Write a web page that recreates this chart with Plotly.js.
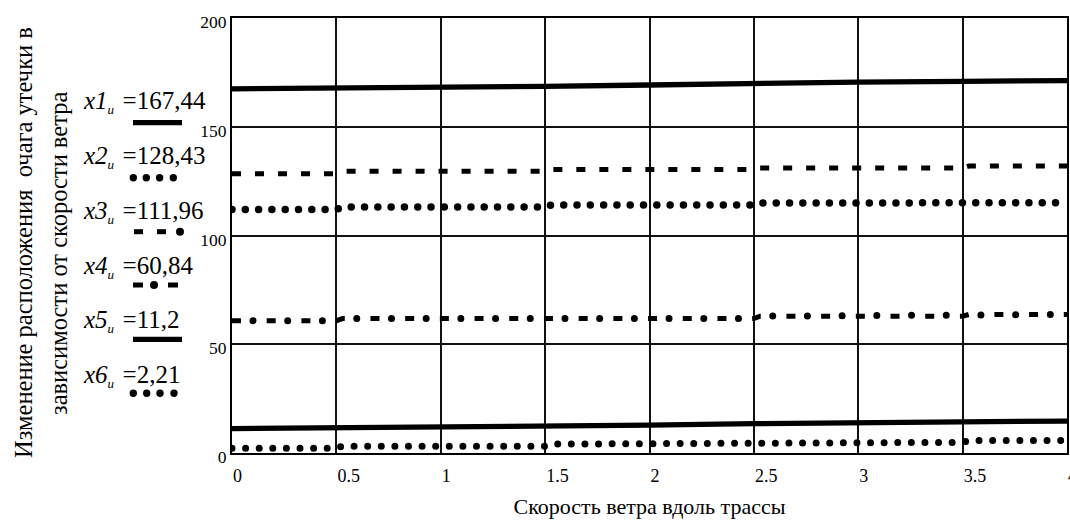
<!DOCTYPE html>
<html><head><meta charset="utf-8">
<script src="https://cdn.plot.ly/plotly-3.0.1.min.js"></script>
<style>
html,body{margin:0;padding:0;background:#fff;}
#chart{width:1070px;height:521px;}
.scatterlayer .trace:nth-child(3) path.js-line,
.scatterlayer .trace:nth-child(5) path.js-line,
.scatterlayer .trace:nth-child(7) path.js-line{stroke-linecap:round !important;}
.scatterlayer .trace:nth-child(5) path.js-line{stroke-dashoffset:13.7px !important;}
</style></head>
<body><div id="chart"></div>
<script>
// ---- data ----
const xStep   = [0, 0.5, 0.53, 1.5, 1.53, 2.5, 2.53, 3.5, 3.53, 4];
const xSmooth = [0, 0.5, 1, 1.5, 2, 2.5, 3, 3.5, 4];
const x1 = [167.44, 167.7, 168.2, 168.6, 169.2, 170.0, 170.5, 170.9, 171.2];
const x2 = [128.43, 128.43, 129.5, 129.5, 130.3, 130.3, 131.0, 131.0, 131.9, 131.9];
const x3 = [111.96, 111.96, 113.1, 113.1, 114.0, 114.0, 114.9, 114.9, 115.1, 115.1];
const x4 = [60.84, 60.84, 61.8, 61.8, 61.8, 61.8, 62.9, 62.9, 63.7, 63.7];
const x5 = [11.2, 11.5, 12.0, 12.4, 12.8, 13.5, 14.0, 14.4, 14.7];
const x6 = [2.21, 2.21, 3.15, 3.15, 4.1, 4.1, 4.9, 4.9, 5.8, 5.8];

const xTickVals = [0, 0.5, 1, 1.5, 2, 2.5, 3, 3.5, 4];
const xTickText = ['0', '0.5', '1', '1.5', '2', '2.5', '3', '3.5', '4'];
const yTickVals = [0, 50, 100, 150, 200];
const yTickText = ['0', '50', '100', '150', '200'];

const legendNames  = ['x1', 'x2', 'x3', 'x4', 'x5', 'x6'];
const legendValues = ['167,44', '128,43', '111,96', '60,84', '11,2', '2,21'];
const xTitle = 'Скорость ветра вдоль трассы';
const yTitleLines = ['Изменение расположения  очага утечки в', 'зависимости от скорости ветра'];

// ---- geometry helpers (pixel -> paper) ----
const L = 232, R = 1067, T = 18, B = 453;
const px = v => (v - L) / (R - L);
const py = v => (B - v) / (B - T);

const serif = 'Liberation Serif, Times New Roman, serif';

const traces = [
  {x: xSmooth, y: x1, mode: 'lines', line: {color: '#000', width: 5.3}},
  {x: xStep, y: x2, mode: 'lines', line: {color: '#000', width: 5, dash: '9px,14px'}},
  {x: xStep, y: x3, mode: 'lines', line: {color: '#000', width: 7.5, dash: '0px,13.3px'}},
  {x: xStep, y: x4, mode: 'lines', line: {color: '#000', width: 5, dash: '9px,25.7px'}},
  {x: xStep, y: x4, mode: 'lines', line: {color: '#000', width: 7, dash: '0px,34.7px'}},
  {x: xSmooth, y: x5, mode: 'lines', line: {color: '#000', width: 5.3}},
  {x: xStep, y: x6, mode: 'lines', line: {color: '#000', width: 7, dash: '0px,13.6px'}}
];

// legend text rows (pixel centres)
const rowY = [102, 157, 212, 267, 321, 376];
const annotations = [];
legendNames.forEach((n, i) => {
  annotations.push({
    xref: 'paper', yref: 'paper', x: px(81), y: py(rowY[i]),
    xanchor: 'left', yanchor: 'middle', showarrow: false,
    text: '<i>' + n + '</i><sub><i><span style="font-size:13px">и</span></i></sub><span style="font-size:17px">&nbsp;&nbsp;</span>=' + legendValues[i],
    font: {family: serif, size: 25, color: '#000'}
  });
});
annotations.push({
  xref: 'paper', yref: 'paper', x: px(24), y: py(243), xanchor: 'center', yanchor: 'middle',
  textangle: -90, showarrow: false, text: yTitleLines[0], font: {family: serif, size: 24.5, color: '#000'}
});
annotations.push({
  xref: 'paper', yref: 'paper', x: px(58), y: py(254), xanchor: 'center', yanchor: 'middle',
  textangle: -90, showarrow: false, text: yTitleLines[1], font: {family: serif, size: 24.5, color: '#000'}
});

// legend samples
const shapes = [];
function hline(x0, x1_, y, w) {
  shapes.push({type: 'line', xref: 'paper', yref: 'paper', x0: px(x0), x1: px(x1_), y0: py(y), y1: py(y),
    line: {color: '#000', width: w}});
}
function dot(cx, cy, r) {
  shapes.push({type: 'circle', xref: 'paper', yref: 'paper', x0: px(cx - r), x1: px(cx + r), y0: py(cy + r), y1: py(cy - r),
    fillcolor: '#000', line: {width: 0}});
}
function dash(x0, x1_, cy, h) {
  shapes.push({type: 'rect', xref: 'paper', yref: 'paper', x0: px(x0), x1: px(x1_), y0: py(cy + h / 2), y1: py(cy - h / 2),
    fillcolor: '#000', line: {width: 0}});
}
hline(133, 182, 122.7, 5.3);
[133.3, 146.3, 159.6, 173.3].forEach(c => dot(c, 177.7, 3.7));
dash(134, 143, 231.7, 5); dash(157, 166, 231.7, 5); dot(180, 231.7, 4);
dash(133, 143, 285, 5); dot(154, 285, 4); dash(168, 178, 285, 5);
hline(133, 182, 339.3, 5.3);
[133.3, 146.7, 160, 174].forEach(c => dot(c, 393.3, 3.7));

const layout = {
  width: 1070, height: 521,
  margin: {l: L, r: 1070 - R, t: T, b: 521 - B},
  paper_bgcolor: '#fff', plot_bgcolor: '#fff',
  showlegend: false, hovermode: false,
  font: {family: serif, color: '#000', size: 16},
  xaxis: {
    range: [0, 4], tickmode: 'array', tickvals: xTickVals, ticktext: xTickText,
    showgrid: true, gridcolor: '#111', gridwidth: 2, zeroline: false,
    showline: true, linecolor: '#000', linewidth: 2, mirror: true,
    ticks: '', ticklabelposition: 'outside right', ticklabelstandoff: 5, ticklabeloverflow: 'allow',
    tickfont: {family: serif, size: 18, color: '#000'},
    title: {text: xTitle, font: {family: serif, size: 22, color: '#000'}, standoff: 14},
    automargin: false, fixedrange: true
  },
  yaxis: {
    range: [0, 200], tickmode: 'array', tickvals: yTickVals, ticktext: yTickText,
    showgrid: true, gridcolor: '#111', gridwidth: 2, zeroline: false,
    showline: true, linecolor: '#000', linewidth: 2, mirror: true,
    ticks: '', ticklabelshift: 4, tickfont: {family: serif, size: 17.5, color: '#000'},
    automargin: false, fixedrange: true
  },
  annotations: annotations,
  shapes: shapes
};

Plotly.newPlot('chart', traces, layout, {staticPlot: true, displayModeBar: false});
</script>
</body></html>
